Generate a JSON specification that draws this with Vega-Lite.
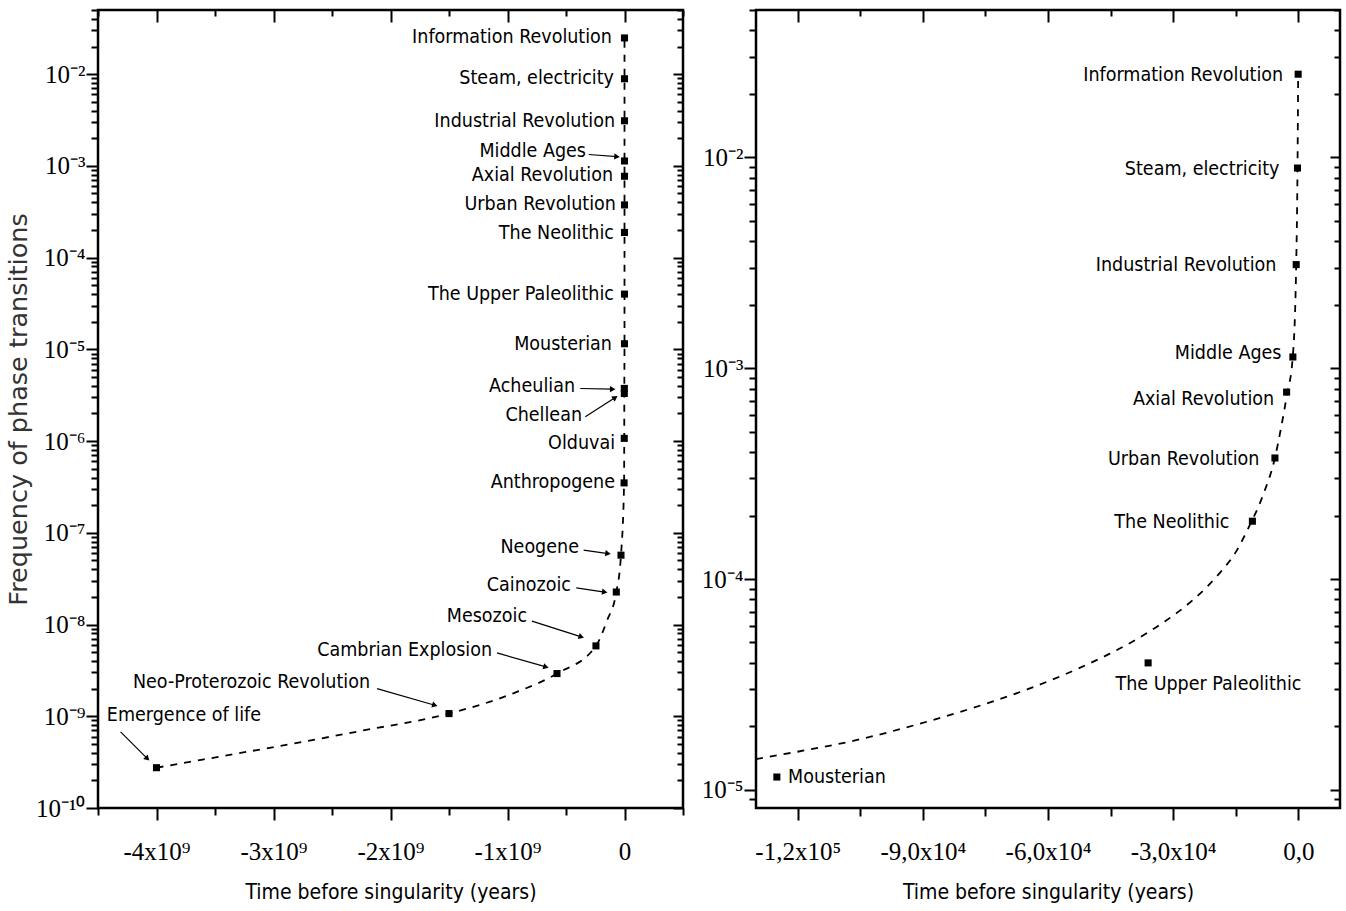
{
  "$schema": "https://vega.github.io/schema/vega-lite/v6.json",
  "background": "white",
  "padding": {"left": 5, "top": 7, "right": 5, "bottom": 0},
  "spacing": 14,
  "datasets": {
    "events": [
      {"name": "Information Revolution", "x": -30, "y": 0.0248},
      {"name": "Steam, electricity", "x": -190, "y": 0.0089},
      {"name": "Industrial Revolution", "x": -500, "y": 0.0031},
      {"name": "Middle Ages", "x": -1300, "y": 0.00113},
      {"name": "Axial Revolution", "x": -2800, "y": 0.00077},
      {"name": "Urban Revolution", "x": -5600, "y": 0.000375},
      {"name": "The Neolithic", "x": -11000, "y": 0.000188},
      {"name": "The Upper Paleolithic", "x": -36000, "y": 0.00004},
      {"name": "Mousterian", "x": -125000, "y": 0.0000115},
      {"name": "Acheulian", "x": -1400000, "y": 0.00000375},
      {"name": "Chellean", "x": -1600000, "y": 0.0000033},
      {"name": "Olduvai", "x": -2200000, "y": 0.00000107},
      {"name": "Anthropogene", "x": -3500000, "y": 3.5e-7},
      {"name": "Neogene", "x": -30000000, "y": 5.7e-8},
      {"name": "Cainozoic", "x": -70000000, "y": 2.26e-8},
      {"name": "Mesozoic", "x": -244000000, "y": 5.85e-9},
      {"name": "Cambrian Explosion", "x": -577000000, "y": 2.92e-9},
      {"name": "Neo-Proterozoic Revolution", "x": -1500000000, "y": 1.07e-9},
      {"name": "Emergence of life", "x": -4000000000, "y": 2.75e-10}
    ],
    "curveL": [
      {"x": -4000000000, "y": 2.75e-10},
      {"x": -3605000000, "y": 3.37e-10},
      {"x": -2964000000, "y": 4.7e-10},
      {"x": -2232000000, "y": 7.0e-10},
      {"x": -1500000000, "y": 1.07e-9},
      {"x": -950000000, "y": 1.78e-9},
      {"x": -577000000, "y": 2.92e-9},
      {"x": -244000000, "y": 5.85e-9},
      {"x": -150000000, "y": 1.1e-8},
      {"x": -70000000, "y": 2.26e-8},
      {"x": -30000000, "y": 5.7e-8},
      {"x": -3500000, "y": 3.5e-7},
      {"x": -2200000, "y": 0.00000107},
      {"x": -1500000, "y": 0.0000035},
      {"x": -125000, "y": 0.0000115},
      {"x": -36000, "y": 0.00004},
      {"x": -11000, "y": 0.000188},
      {"x": -5600, "y": 0.000375},
      {"x": -2800, "y": 0.00077},
      {"x": -1300, "y": 0.00113},
      {"x": -500, "y": 0.0031},
      {"x": -190, "y": 0.0089},
      {"x": -30, "y": 0.0248}
    ],
    "curveR": [
      {"x": -130000, "y": 0.000014},
      {"x": -119760, "y": 0.0000152},
      {"x": -105990, "y": 0.0000172},
      {"x": -92230, "y": 0.0000202},
      {"x": -78470, "y": 0.0000243},
      {"x": -64700, "y": 0.0000301},
      {"x": -52760, "y": 0.0000376},
      {"x": -45420, "y": 0.000044},
      {"x": -38990, "y": 0.0000515},
      {"x": -32000, "y": 0.0000629},
      {"x": -25230, "y": 0.0000796},
      {"x": -18800, "y": 0.000107},
      {"x": -14800, "y": 0.000136},
      {"x": -12000, "y": 0.000174},
      {"x": -8417, "y": 0.000251},
      {"x": -5635, "y": 0.000373},
      {"x": -4196, "y": 0.000513},
      {"x": -2758, "y": 0.000741},
      {"x": -1319, "y": 0.001135},
      {"x": -504, "y": 0.00307},
      {"x": -190, "y": 0.00874},
      {"x": -30, "y": 0.0247}
    ],
    "labelsL": [
      {"label": "Information Revolution", "x": -107000000, "y": 0.0256},
      {"label": "Steam, electricity", "x": -90000000, "y": 0.00914},
      {"label": "Industrial Revolution", "x": -81000000, "y": 0.0031},
      {"label": "Middle Ages", "x": -329000000, "y": 0.00146},
      {"label": "Axial Revolution", "x": -98000000, "y": 0.0008},
      {"label": "Urban Revolution", "x": -73000000, "y": 0.000386},
      {"label": "The Neolithic", "x": -90000000, "y": 0.000186},
      {"label": "The Upper Paleolithic", "x": -90000000, "y": 0.0000403},
      {"label": "Mousterian", "x": -107000000, "y": 0.0000115},
      {"label": "Acheulian", "x": -423000000, "y": 0.000004},
      {"label": "Chellean", "x": -363000000, "y": 0.00000193},
      {"label": "Olduvai", "x": -81000000, "y": 9.55e-7},
      {"label": "Anthropogene", "x": -81000000, "y": 3.59e-7},
      {"label": "Neogene", "x": -389000000, "y": 7.0e-8},
      {"label": "Cainozoic", "x": -457000000, "y": 2.7e-8},
      {"label": "Mesozoic", "x": -833000000, "y": 1.24e-8},
      {"label": "Cambrian Explosion", "x": -1132000000, "y": 5.28e-9},
      {"label": "Neo-Proterozoic Revolution", "x": -2175000000, "y": 2.37e-9},
      {"label": "Emergence of life", "x": -3107000000, "y": 1.03e-9}
    ],
    "arrowsL": [
      {"name": "Middle Ages", "x": -306000000, "y": 0.00133, "hx": -64000000, "hy": 0.00126, "angle": 5},
      {"name": "Acheulian", "x": -378000000, "y": 0.00000374, "hx": -101000000, "hy": 0.00000368, "angle": 1},
      {"name": "Chellean", "x": -335000000, "y": 0.00000184, "hx": -79000000, "hy": 0.00000298, "angle": -33},
      {"name": "Neogene", "x": -349000000, "y": 6.46e-8, "hx": -141000000, "hy": 5.93e-8, "angle": 8},
      {"name": "Cainozoic", "x": -412000000, "y": 2.51e-8, "hx": -169000000, "hy": 2.26e-8, "angle": 8},
      {"name": "Mesozoic", "x": -791000000, "y": 1.09e-8, "hx": -369000000, "hy": 7.33e-9, "angle": 18},
      {"name": "Cambrian Explosion", "x": -1090000000, "y": 4.9e-9, "hx": -671000000, "hy": 3.45e-9, "angle": 16},
      {"name": "Neo-Proterozoic Revolution", "x": -2115000000, "y": 2.0e-9, "hx": -1621000000, "hy": 1.32e-9, "angle": 16},
      {"name": "Emergence of life", "x": -4307000000, "y": 6.75e-10, "hx": -4078000000, "hy": 3.45e-10, "angle": 45}
    ],
    "labelsR": [
      {"label": "Information Revolution", "x": -3621, "y": 0.0247},
      {"label": "Steam, electricity", "x": -4508, "y": 0.00877},
      {"label": "Industrial Revolution", "x": -5228, "y": 0.00307},
      {"label": "Middle Ages", "x": -4029, "y": 0.001175},
      {"label": "Axial Revolution", "x": -5779, "y": 0.000716},
      {"label": "Urban Revolution", "x": -9304, "y": 0.000372},
      {"label": "The Neolithic", "x": -16498, "y": 0.000187}
    ],
    "labelsR2": [
      {"label": "The Upper Paleolithic", "x": -43835, "y": 0.0000318},
      {"label": "Mousterian", "x": -122322, "y": 0.00001146}
    ]
  },
  "config": {
    "view": {"stroke": "#000", "strokeWidth": 2.5},
    "axis": {
      "grid": false,
      "domain": false,
      "tickColor": "#000",
      "tickWidth": 2,
      "labelColor": "#000",
      "labelFont": "Liberation Sans Narrow",
      "labelFontSize": 25,
      "titleColor": "#000",
      "titleFontWeight": "normal",
      "labelOverlap": false,
      "labelFlush": false
    },
    "text": {"font": "DejaVu Sans Condensed", "fontSize": 19.5, "color": "#000"}
  },
  "hconcat": [
    {
      "width": 585,
      "height": 798,
      "resolve": {"axis": {"x": "independent", "y": "independent"}},
      "layer": [
        {
          "data": {"name": "curveL"},
          "mark": {"type": "line", "interpolate": "monotone", "strokeDash": [7, 7], "strokeWidth": 1.8, "color": "#000"},
          "encoding": {
            "x": {"field": "x", "type": "quantitative",
              "scale": {"domain": [-4500000000, 500000000], "nice": false, "zero": false},
              "axis": {"orient": "bottom",
                "values": [-4500000000, -4000000000, -3500000000, -3000000000, -2500000000, -2000000000, -1500000000, -1000000000, -500000000, 0, 500000000],
                "title": "Time before singularity (years)", "titleFont": "DejaVu Sans Condensed", "titleFontSize": 21, "titlePadding": 17,
                "labelPadding": 19,
                "tickSize": {"condition": {"test": "abs(datum.value/1e9 - round(datum.value/1e9)) < 1e-6", "value": 12}, "value": 7},
                "labelFontSize": {"condition": {"test": "abs(datum.value/1e9 - round(datum.value/1e9)) < 1e-6", "value": 25}, "value": 0},
                "labelExpr": "datum.value == 0 ? '0' : (abs(datum.value/1e9 - round(datum.value/1e9)) < 1e-6 ? (datum.value/1e9) + 'x10⁹' : '')"}},
            "y": {"field": "y", "type": "quantitative",
              "scale": {"type": "log", "domain": [1e-10, 0.05], "nice": false},
              "axis": {"orient": "left", "tickCount": 20,
                "title": "Frequency of phase transitions", "titleFont": "DejaVu Sans", "titleFontSize": 25.5, "titleColor": "#333", "titlePadding": 4,
                "labelPadding": 1,
                "tickSize": {"condition": {"test": "abs(log(datum.value)/LN10 - round(log(datum.value)/LN10)) < 0.001", "value": 12}, "value": 7},
                "labelFontSize": {"condition": {"test": "abs(log(datum.value)/LN10 - round(log(datum.value)/LN10)) < 0.001", "value": 25}, "value": 0},
                "labelExpr": "abs(log(datum.value)/LN10 - round(log(datum.value)/LN10)) > 0.001 ? '' : (round(-log(datum.value)/LN10) == 10 ? '10⁻¹⁰' : '10⁻' + substring('⁰¹²³⁴⁵⁶⁷⁸⁹', round(-log(datum.value)/LN10), round(-log(datum.value)/LN10) + 1))"}}
          }
        },
        {
          "data": {"name": "events"},
          "mark": {"type": "point", "shape": "square", "filled": true, "size": 50, "color": "#000", "opacity": 1},
          "encoding": {
            "x": {"field": "x", "type": "quantitative",
              "scale": {"domain": [-4500000000, 500000000], "nice": false, "zero": false},
              "axis": {"orient": "top", "labels": false, "title": null, "minExtent": 0, "maxExtent": 0,
                "values": [-4500000000, -4000000000, -3500000000, -3000000000, -2500000000, -2000000000, -1500000000, -1000000000, -500000000, 0, 500000000],
                "tickSize": {"condition": {"test": "abs(datum.value/1e9 - round(datum.value/1e9)) < 1e-6", "value": -12}, "value": -6}}},
            "y": {"field": "y", "type": "quantitative",
              "scale": {"type": "log", "domain": [1e-10, 0.05], "nice": false},
              "axis": {"orient": "right", "labels": false, "title": null, "tickCount": 20, "minExtent": 0, "maxExtent": 0,
                "tickSize": {"condition": {"test": "abs(log(datum.value)/LN10 - round(log(datum.value)/LN10)) < 0.001", "value": -10}, "value": -6}}}
          }
        },
        {
          "data": {"name": "arrowsL"},
          "mark": {"type": "rule", "strokeWidth": 1.2, "color": "#000"},
          "encoding": {
            "x": {"field": "x", "type": "quantitative", "scale": {"domain": [-4500000000, 500000000], "nice": false, "zero": false}, "axis": null},
            "y": {"field": "y", "type": "quantitative", "scale": {"type": "log", "domain": [1e-10, 0.05], "nice": false}, "axis": null},
            "x2": {"field": "hx"},
            "y2": {"field": "hy"}
          }
        },
        {
          "data": {"name": "arrowsL"},
          "mark": {"type": "point", "shape": "triangle-right", "filled": true, "size": 40, "color": "#000", "opacity": 1},
          "encoding": {
            "x": {"field": "hx", "type": "quantitative", "scale": {"domain": [-4500000000, 500000000], "nice": false, "zero": false}, "axis": null},
            "y": {"field": "hy", "type": "quantitative", "scale": {"type": "log", "domain": [1e-10, 0.05], "nice": false}, "axis": null},
            "angle": {"field": "angle", "type": "quantitative", "scale": null}
          }
        },
        {
          "data": {"name": "labelsL"},
          "mark": {"type": "text", "align": "right", "baseline": "middle"},
          "encoding": {
            "x": {"field": "x", "type": "quantitative", "scale": {"domain": [-4500000000, 500000000], "nice": false, "zero": false}, "axis": null},
            "y": {"field": "y", "type": "quantitative", "scale": {"type": "log", "domain": [1e-10, 0.05], "nice": false}, "axis": null},
            "text": {"field": "label"}
          }
        }
      ]
    },
    {
      "width": 584,
      "height": 798,
      "resolve": {"axis": {"x": "independent", "y": "independent"}},
      "layer": [
        {
          "data": {"name": "curveR"},
          "mark": {"type": "line", "interpolate": "monotone", "strokeDash": [7, 7], "strokeWidth": 1.8, "color": "#000"},
          "encoding": {
            "x": {"field": "x", "type": "quantitative",
              "scale": {"domain": [-130000, 10000], "nice": false, "zero": false},
              "axis": {"orient": "bottom",
                "values": [-120000, -105000, -90000, -75000, -60000, -45000, -30000, -15000, 0],
                "title": "Time before singularity (years)", "titleFont": "DejaVu Sans Condensed", "titleFontSize": 21, "titlePadding": 17,
                "labelPadding": 19,
                "tickSize": {"condition": {"test": "datum.value % 30000 == 0", "value": 12}, "value": 8},
                "labelExpr": "datum.value == 0 ? '0,0' : (datum.value % 30000 == 0 ? (abs(datum.value) >= 100000 ? '-' + replace('' + (-datum.value/100000), '.', ',') + 'x10⁵' : '-' + (-datum.value/10000) + ',0x10⁴') : '')"}},
            "y": {"field": "y", "type": "quantitative",
              "scale": {"type": "log", "domain": [0.0000082, 0.05], "nice": false},
              "axis": {"orient": "left", "tickCount": 20, "title": null,
                "labelPadding": 1,
                "tickSize": {"condition": {"test": "abs(log(datum.value)/LN10 - round(log(datum.value)/LN10)) < 0.001", "value": 12}, "value": 7},
                "labelFontSize": {"condition": {"test": "abs(log(datum.value)/LN10 - round(log(datum.value)/LN10)) < 0.001", "value": 25}, "value": 0},
                "labelExpr": "abs(log(datum.value)/LN10 - round(log(datum.value)/LN10)) > 0.001 ? '' : (round(-log(datum.value)/LN10) == 10 ? '10⁻¹⁰' : '10⁻' + substring('⁰¹²³⁴⁵⁶⁷⁸⁹', round(-log(datum.value)/LN10), round(-log(datum.value)/LN10) + 1))"}}
          }
        },
        {
          "data": {"name": "events"},
          "transform": [{"filter": "datum.x >= -130000"}],
          "mark": {"type": "point", "shape": "square", "filled": true, "size": 50, "color": "#000", "opacity": 1},
          "encoding": {
            "x": {"field": "x", "type": "quantitative",
              "scale": {"domain": [-130000, 10000], "nice": false, "zero": false},
              "axis": {"orient": "top", "labels": false, "title": null, "minExtent": 0, "maxExtent": 0,
                "values": [-120000, -105000, -90000, -75000, -60000, -45000, -30000, -15000, 0],
                "tickSize": {"condition": {"test": "datum.value % 30000 == 0", "value": -12}, "value": -6}}},
            "y": {"field": "y", "type": "quantitative",
              "scale": {"type": "log", "domain": [0.0000082, 0.05], "nice": false},
              "axis": {"orient": "right", "labels": false, "title": null, "tickCount": 20, "minExtent": 0, "maxExtent": 0,
                "tickSize": {"condition": {"test": "abs(log(datum.value)/LN10 - round(log(datum.value)/LN10)) < 0.001", "value": -10}, "value": -6}}}
          }
        },
        {
          "data": {"name": "labelsR"},
          "mark": {"type": "text", "align": "right", "baseline": "middle"},
          "encoding": {
            "x": {"field": "x", "type": "quantitative", "scale": {"domain": [-130000, 10000], "nice": false, "zero": false}, "axis": null},
            "y": {"field": "y", "type": "quantitative", "scale": {"type": "log", "domain": [0.0000082, 0.05], "nice": false}, "axis": null},
            "text": {"field": "label"}
          }
        },
        {
          "data": {"name": "labelsR2"},
          "mark": {"type": "text", "align": "left", "baseline": "middle"},
          "encoding": {
            "x": {"field": "x", "type": "quantitative", "scale": {"domain": [-130000, 10000], "nice": false, "zero": false}, "axis": null},
            "y": {"field": "y", "type": "quantitative", "scale": {"type": "log", "domain": [0.0000082, 0.05], "nice": false}, "axis": null},
            "text": {"field": "label"}
          }
        }
      ]
    }
  ]
}
